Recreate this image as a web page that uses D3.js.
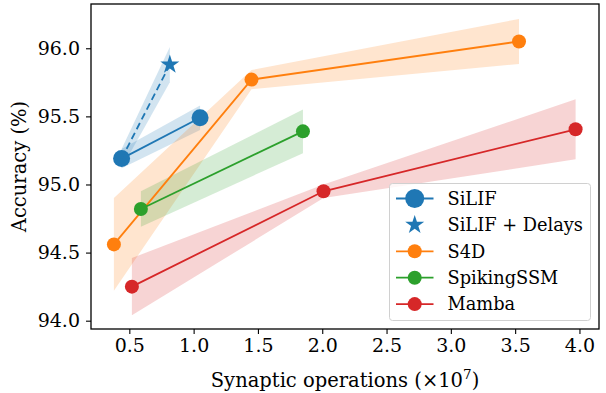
<!DOCTYPE html>
<html>
<head>
<meta charset="utf-8">
<script src="https://cdn.jsdelivr.net/npm/d3@7"></script>
<style>
  body { margin: 0; background: #fff; }
  svg text { font-family: "DejaVu Serif", serif; fill: #000; }
</style>
</head>
<body>
<svg id="chart" width="606" height="393"></svg>
<script>
// data
var silifX = [0.44, 1.05],        silifY = [95.19, 95.49],         silifErr = [0.07, 0.09];
var delaysX = [0.44, 0.815],      delaysY = [95.19, 95.88],        delaysErr = [0.07, 0.13];
var s4dX = [0.38, 1.45, 3.53],    s4dY = [94.56, 95.77, 96.05],    s4dErr = [0.34, 0.07, 0.165];
var sssmX = [0.59, 1.85],         sssmY = [94.82, 95.39],          sssmErr = [0.13, 0.16];
var mambaX = [0.52, 2.01, 3.97],  mambaY = [94.25, 94.95, 95.405], mambaErr = [0.21, 0.05, 0.22];

var xTicks = [0.5, 1.0, 1.5, 2.0, 2.5, 3.0, 3.5, 4.0];
var yTicks = [94.0, 94.5, 95.0, 95.5, 96.0];

var series = [
  { name: "SiLIF",          x: silifX,  y: silifY,  err: silifErr,  color: "#1f77b4", marker: "circle", r: 8.5, dash: null },
  { name: "SiLIF + Delays", x: delaysX, y: delaysY, err: delaysErr, color: "#1f77b4", marker: "star",   r: 10,  dash: "7,4", legendLine: false },
  { name: "S4D",            x: s4dX,    y: s4dY,    err: s4dErr,    color: "#ff7f0e", marker: "circle", r: 7,   dash: null },
  { name: "SpikingSSM",     x: sssmX,   y: sssmY,   err: sssmErr,   color: "#2ca02c", marker: "circle", r: 7,   dash: null },
  { name: "Mamba",          x: mambaX,  y: mambaY,  err: mambaErr,  color: "#d62728", marker: "circle", r: 7,   dash: null }
];

var mLeft = 91, mRight = 599, mTop = 4, mBottom = 329;
var tickFs = 19, labelFs = 19.5, legendFs = 17.8;

var svg = d3.select("#chart");

var x = d3.scaleLinear().domain([0.202, 4.152]).range([mLeft, mRight]);
var y = d3.scaleLinear().domain([93.939, 96.325]).range([mBottom, mTop]);

var plot = svg.append("g");

// bands
series.forEach(function (s) {
  var pts = s.x.map(function (v, i) { return { x: v, y: s.y[i], e: s.err[i] }; });
  var area = d3.area()
    .x(function (d) { return x(d.x); })
    .y0(function (d) { return y(d.y - d.e); })
    .y1(function (d) { return y(d.y + d.e); });
  plot.append("path")
    .attr("d", area(pts))
    .attr("fill", s.color)
    .attr("fill-opacity", 0.2);
});

// lines and markers
var star = d3.symbol().type(d3.symbolStar);
series.forEach(function (s) {
  var pts = s.x.map(function (v, i) { return { x: v, y: s.y[i] }; });
  var line = d3.line().x(function (d) { return x(d.x); }).y(function (d) { return y(d.y); });
  plot.append("path")
    .attr("d", line(pts))
    .attr("fill", "none")
    .attr("stroke", s.color)
    .attr("stroke-width", 1.8)
    .attr("stroke-dasharray", s.dash);
  if (s.marker === "star") {
    var last = pts[pts.length - 1];
    plot.append("path")
      .attr("d", star.size(s.r * s.r / 0.8908)())
      .attr("transform", "translate(" + x(last.x) + "," + y(last.y) + ")")
      .attr("fill", s.color);
  } else {
    plot.selectAll(null).data(pts).enter().append("circle")
      .attr("cx", function (d) { return x(d.x); })
      .attr("cy", function (d) { return y(d.y); })
      .attr("r", s.r)
      .attr("fill", s.color);
  }
});

// axes
var xAxis = svg.append("g")
  .attr("transform", "translate(0," + mBottom + ")")
  .call(d3.axisBottom(x).tickValues(xTicks).tickFormat(d3.format(".1f")).tickSize(5).tickPadding(5));
var yAxis = svg.append("g")
  .attr("transform", "translate(" + mLeft + ",0)")
  .call(d3.axisLeft(y).tickValues(yTicks).tickFormat(d3.format(".1f")).tickSize(5).tickPadding(6));
[xAxis, yAxis].forEach(function (a) {
  a.select(".domain").remove();
  a.selectAll("line").attr("stroke", "#000").attr("stroke-width", 1.1);
  a.selectAll("text").attr("font-family", "DejaVu Serif").attr("font-size", tickFs).attr("fill", "#000");
});

svg.append("rect")
  .attr("x", mLeft).attr("y", mTop)
  .attr("width", mRight - mLeft).attr("height", mBottom - mTop)
  .attr("fill", "none").attr("stroke", "#000").attr("stroke-width", 1.3);

// axis labels
var xl = svg.append("text")
  .attr("x", (mLeft + mRight) / 2).attr("y", 387)
  .attr("text-anchor", "middle").attr("font-size", labelFs);
xl.append("tspan").text("Synaptic operations (\u00d710");
xl.append("tspan").attr("font-size", 13.5).attr("dy", -8).text("7");
xl.append("tspan").attr("dy", 8).text(")");

svg.append("text")
  .attr("transform", "translate(26," + (mTop + mBottom) / 2 + ") rotate(-90)")
  .attr("text-anchor", "middle").attr("font-size", labelFs)
  .text("Accuracy (%)");

// legend
var lg = svg.append("g");
lg.append("rect")
  .attr("x", 389.5).attr("y", 183.5).attr("width", 201).attr("height", 137)
  .attr("rx", 3).attr("fill", "#fff").attr("fill-opacity", 0.8)
  .attr("stroke", "#d0d0d0").attr("stroke-width", 1);
series.forEach(function (s, i) {
  var cy = 198.5 + i * 26.4;
  if (s.legendLine !== false) {
    lg.append("line").attr("x1", 396).attr("x2", 433.5).attr("y1", cy).attr("y2", cy)
      .attr("stroke", s.color).attr("stroke-width", 1.8);
  }
  if (s.marker === "star") {
    lg.append("path").attr("d", star.size(s.r * s.r / 0.8908)())
      .attr("transform", "translate(414.7," + cy + ")").attr("fill", s.color);
  } else {
    lg.append("circle").attr("cx", 414.7).attr("cy", cy).attr("r", s.r + (i === 0 ? 1 : 0)).attr("fill", s.color);
  }
  lg.append("text").attr("x", 447.5).attr("y", cy).attr("dy", "0.35em")
    .attr("font-size", legendFs).text(s.name);
});
</script>
</body>
</html>
